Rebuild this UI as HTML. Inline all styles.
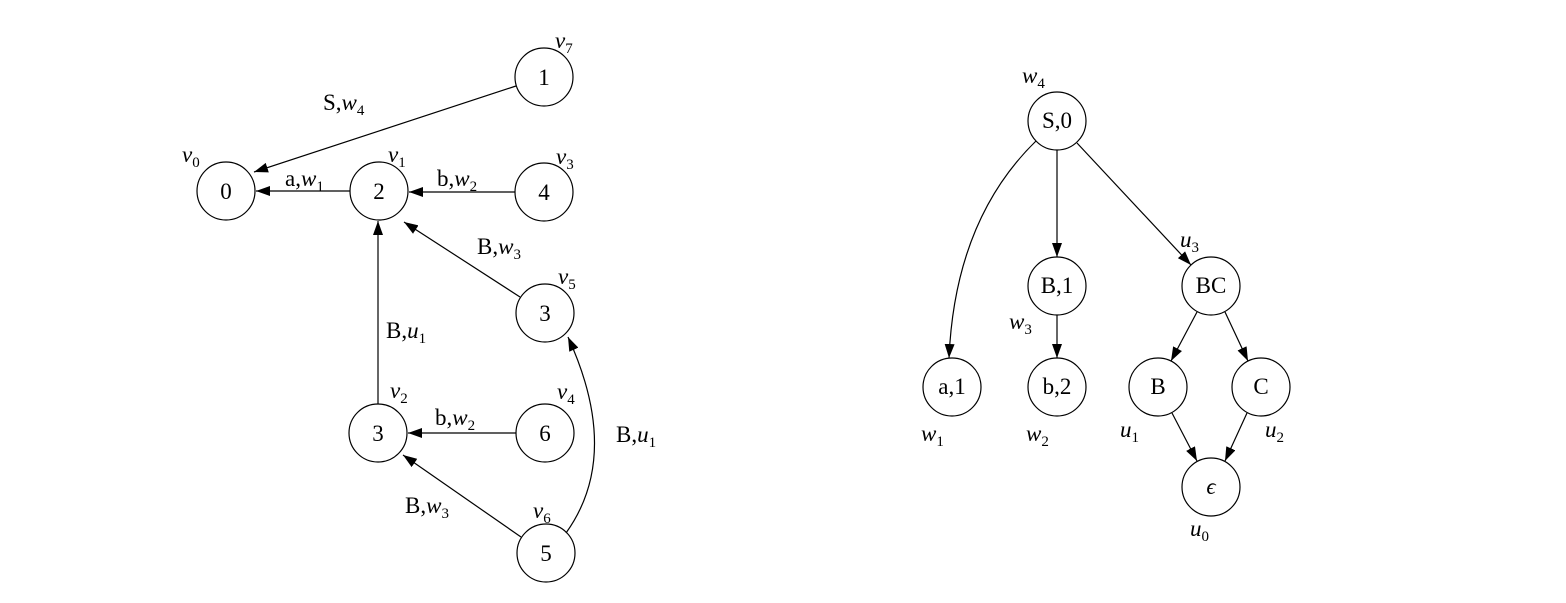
<!DOCTYPE html>
<html><head><meta charset="utf-8"><style>
body{margin:0;background:#fff}
svg text{font-family:"Liberation Serif","DejaVu Serif",serif;font-size:23px;fill:#000}
.i{font-style:italic}
.s{font-size:15px}
</style></head><body>
<svg width="1566" height="598" viewBox="0 0 1566 598" xmlns="http://www.w3.org/2000/svg">
<defs><marker id="a" markerWidth="14" markerHeight="10" refX="14" refY="5" orient="auto" markerUnits="userSpaceOnUse"><path d="M0,0 L14,5 L0,10 z" fill="#000"/></marker></defs>
<g fill="none" stroke="#000" stroke-width="1.2">
<circle cx="226" cy="191" r="29"/><circle cx="379" cy="191" r="29"/><circle cx="544" cy="192" r="29"/>
<circle cx="544" cy="77" r="29"/><circle cx="545" cy="313" r="29"/><circle cx="378" cy="433" r="29"/>
<circle cx="545" cy="433" r="29"/><circle cx="546" cy="553" r="29"/>
<circle cx="1057" cy="121" r="29"/><circle cx="1057" cy="286" r="29"/><circle cx="1211" cy="286" r="29"/>
<circle cx="952" cy="387" r="29"/><circle cx="1057" cy="387" r="29"/><circle cx="1158" cy="387" r="29"/>
<circle cx="1261" cy="387" r="29"/><circle cx="1211" cy="487" r="29"/>
</g>
<g fill="none" stroke="#000" stroke-width="1.2" marker-end="url(#a)">
<line x1="516" y1="86" x2="254" y2="172"/>
<line x1="350" y1="191" x2="256" y2="191"/>
<line x1="515" y1="192" x2="409" y2="192"/>
<line x1="520" y1="297" x2="404" y2="222"/>
<line x1="378" y1="404" x2="378" y2="221"/>
<line x1="516" y1="433" x2="408" y2="433"/>
<line x1="521" y1="537" x2="403" y2="455"/>
<path d="M566,533 Q622,455 568,337"/>
<path d="M1036,141 Q955,220 949,358"/>
<line x1="1057" y1="150" x2="1057" y2="257"/>
<line x1="1077" y1="143" x2="1191" y2="265"/>
<line x1="1057" y1="315" x2="1057" y2="358"/>
<line x1="1197" y1="312" x2="1171" y2="361"/>
<line x1="1225" y1="312" x2="1248" y2="361"/>
<line x1="1172" y1="413" x2="1197" y2="461"/>
<line x1="1247" y1="413" x2="1225" y2="461"/>
</g>
<g text-anchor="middle">
<text x="226" y="199">0</text><text x="379" y="199">2</text><text x="544" y="200">4</text>
<text x="544" y="85">1</text><text x="545" y="321">3</text><text x="378" y="441">3</text>
<text x="545" y="441">6</text><text x="546" y="561">5</text>
<text x="1057" y="128" font-size="20">S,0</text><text x="1057" y="293" font-size="20">B,1</text>
<text x="1211" y="293" font-size="20">BC</text><text x="952" y="394" font-size="20">a,1</text>
<text x="1057" y="394" font-size="20">b,2</text><text x="1158" y="394" font-size="20">B</text>
<text x="1261" y="394" font-size="20">C</text><text x="1211" y="494" class="i">ϵ</text>
</g>
<g>
<text x="323" y="110">S,<tspan class="i">w</tspan><tspan class="s" dy="5">4</tspan></text>
<text x="285" y="186">a,<tspan class="i">w</tspan><tspan class="s" dy="5">1</tspan></text>
<text x="437" y="186">b,<tspan class="i">w</tspan><tspan class="s" dy="5">2</tspan></text>
<text x="477" y="254">B,<tspan class="i">w</tspan><tspan class="s" dy="5">3</tspan></text>
<text x="386" y="338">B,<tspan class="i">u</tspan><tspan class="s" dy="5">1</tspan></text>
<text x="435" y="425">b,<tspan class="i">w</tspan><tspan class="s" dy="5">2</tspan></text>
<text x="405" y="513">B,<tspan class="i">w</tspan><tspan class="s" dy="5">3</tspan></text>
<text x="616" y="442">B,<tspan class="i">u</tspan><tspan class="s" dy="5">1</tspan></text>
<text x="182" y="162" class="i">v<tspan class="s" dy="5" font-style="normal">0</tspan></text>
<text x="388" y="162" class="i">v<tspan class="s" dy="5" font-style="normal">1</tspan></text>
<text x="556" y="164" class="i">v<tspan class="s" dy="5" font-style="normal">3</tspan></text>
<text x="555" y="48" class="i">v<tspan class="s" dy="5" font-style="normal">7</tspan></text>
<text x="558" y="284" class="i">v<tspan class="s" dy="5" font-style="normal">5</tspan></text>
<text x="390" y="398" class="i">v<tspan class="s" dy="5" font-style="normal">2</tspan></text>
<text x="557" y="399" class="i">v<tspan class="s" dy="5" font-style="normal">4</tspan></text>
<text x="533" y="518" class="i">v<tspan class="s" dy="5" font-style="normal">6</tspan></text>
<text x="1022" y="83" class="i">w<tspan class="s" dy="5" font-style="normal">4</tspan></text>
<text x="1180" y="247" class="i">u<tspan class="s" dy="5" font-style="normal">3</tspan></text>
<text x="1009" y="329" class="i">w<tspan class="s" dy="5" font-style="normal">3</tspan></text>
<text x="921" y="441" class="i">w<tspan class="s" dy="5" font-style="normal">1</tspan></text>
<text x="1026" y="441" class="i">w<tspan class="s" dy="5" font-style="normal">2</tspan></text>
<text x="1120" y="437" class="i">u<tspan class="s" dy="5" font-style="normal">1</tspan></text>
<text x="1265" y="437" class="i">u<tspan class="s" dy="5" font-style="normal">2</tspan></text>
<text x="1190" y="536" class="i">u<tspan class="s" dy="5" font-style="normal">0</tspan></text>
</g>
</svg>
</body></html>
